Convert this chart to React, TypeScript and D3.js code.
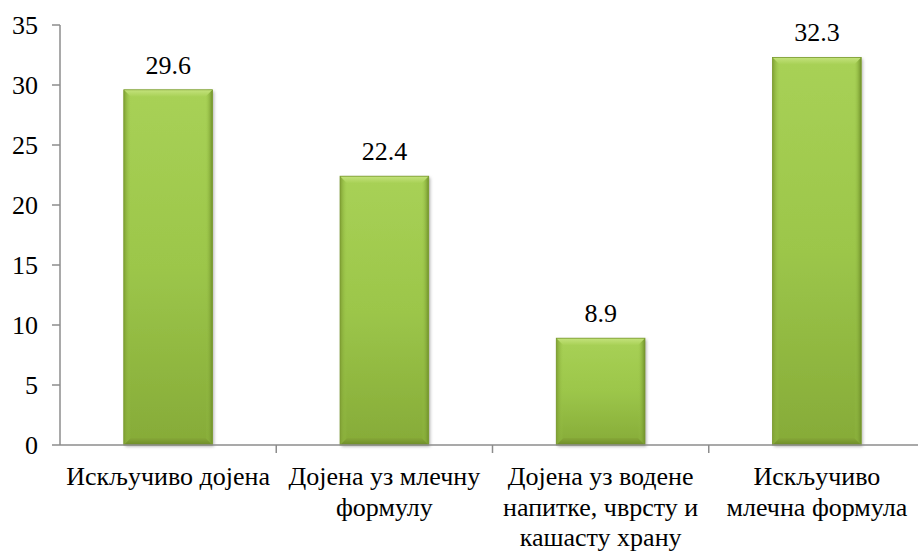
import React from "react";
import * as d3 from "d3";

// data
const categories = [
  "Искључиво дојена",
  "Дојена уз млечну формулу",
  "Дојена уз водене напитке, чврсту и кашасту храну",
  "Искључиво млечна формула",
];
const categoryLines = [
  ["Искључиво дојена"],
  ["Дојена уз млечну", "формулу"],
  ["Дојена уз водене", "напитке, чврсту и", "кашасту храну"],
  ["Искључиво", "млечна формула"],
];
const values = [29.6, 22.4, 8.9, 32.3];
const yTicks = [0, 5, 10, 15, 20, 25, 30, 35];

const width = 918;
const height = 553;
const marginLeft = 60;
const plotRight = 925;
const marginTop = 25;
const plotBottom = 445;
const font = "Liberation Serif";
const fs = 26;

const App = () => {
  const x = d3.scaleBand<string>().domain(categories).range([marginLeft, plotRight]).padding(0);
  const y = d3.scaleLinear().domain([0, 35]).range([plotBottom, marginTop]);
  const barW = x.bandwidth() * 0.41;

  return (
    <svg
      width={width}
      height={height}
      style={{ position: "absolute", left: 0, top: 0, background: "#fff" }}
    >
      <defs>
        <linearGradient id="barFill" x1="0" y1="0" x2="0" y2="1">
          <stop offset="0" stopColor="#a8d156" />
          <stop offset="0.5" stopColor="#9cc64a" />
          <stop offset="1" stopColor="#86ab38" />
        </linearGradient>
        <linearGradient id="sideL" x1="0" y1="0" x2="1" y2="0">
          <stop offset="0" stopColor="#7f9f33" />
          <stop offset="1" stopColor="#9cc64a" stopOpacity="0" />
        </linearGradient>
        <linearGradient id="sideR" x1="1" y1="0" x2="0" y2="0">
          <stop offset="0" stopColor="#6f8f2a" />
          <stop offset="1" stopColor="#9cc64a" stopOpacity="0" />
        </linearGradient>
        <linearGradient id="topBevel" x1="0" y1="0" x2="0" y2="1">
          <stop offset="0" stopColor="#c4e27c" />
          <stop offset="1" stopColor="#a8d156" />
        </linearGradient>
        <linearGradient id="bottomBevel" x1="0" y1="0" x2="0" y2="1">
          <stop offset="0" stopColor="#86a838" />
          <stop offset="1" stopColor="#6e8c28" />
        </linearGradient>
        <filter id="shadow" x="-10%" y="-10%" width="130%" height="120%">
          <feDropShadow dx="1.5" dy="1.5" stdDeviation="1.5" floodColor="#000" floodOpacity="0.3" />
        </filter>
      </defs>

      {/* bars */}
      {categories.map((c, i) => {
        const bx = (x(c) ?? 0) + (x.bandwidth() - barW) / 2;
        const by = y(values[i]);
        const bh = plotBottom - by;
        const b = 7;
        return (
          <g key={c}>
            <rect x={bx} y={by} width={barW} height={bh} fill="url(#barFill)" filter="url(#shadow)" />
            <rect x={bx} y={by} width={b} height={bh} fill="url(#sideL)" />
            <rect x={bx + barW - b} y={by} width={b} height={bh} fill="url(#sideR)" />
            <polygon
              points={`${bx},${by} ${bx + barW},${by} ${bx + barW - b},${by + b} ${bx + b},${by + b}`}
              fill="url(#topBevel)"
            />
            <polygon
              points={`${bx + b},${plotBottom - b} ${bx + barW - b},${plotBottom - b} ${bx + barW},${plotBottom} ${bx},${plotBottom}`}
              fill="url(#bottomBevel)"
            />
            <rect x={bx} y={by} width={barW} height={bh} fill="none" stroke="#7a9a30" strokeWidth={0.8} />
            <text
              x={bx + barW / 2}
              y={by - 16}
              textAnchor="middle"
              style={{ fontFamily: font, fontSize: fs }}
              fill="#000"
            >
              {values[i]}
            </text>
          </g>
        );
      })}

      {/* y axis */}
      <line x1={marginLeft} x2={marginLeft} y1={marginTop} y2={plotBottom} stroke="#8c8c8c" strokeWidth={1.5} />
      {yTicks.map((t) => (
        <g key={t}>
          <line x1={marginLeft - 8} x2={marginLeft} y1={y(t)} y2={y(t)} stroke="#8c8c8c" strokeWidth={1.5} />
          <text
            x={38}
            y={y(t)}
            dy="0.34em"
            textAnchor="end"
            style={{ fontFamily: font, fontSize: fs }}
            fill="#000"
          >
            {t}
          </text>
        </g>
      ))}

      {/* x axis */}
      <line x1={marginLeft} x2={plotRight} y1={plotBottom} y2={plotBottom} stroke="#8c8c8c" strokeWidth={1.5} />
      {categories.map((c) => (
        <line
          key={c}
          x1={(x(c) ?? 0) + x.bandwidth()}
          x2={(x(c) ?? 0) + x.bandwidth()}
          y1={plotBottom}
          y2={plotBottom + 8}
          stroke="#8c8c8c"
          strokeWidth={1.5}
        />
      ))}
      {categories.map((c, i) => (
        <text key={c} textAnchor="middle" style={{ fontFamily: font, fontSize: fs }} fill="#000">
          {categoryLines[i].map((line, j) => (
            <tspan key={j} x={(x(c) ?? 0) + x.bandwidth() / 2} y={485 + j * 30.5}>
              {line}
            </tspan>
          ))}
        </text>
      ))}
    </svg>
  );
};

export default App;
